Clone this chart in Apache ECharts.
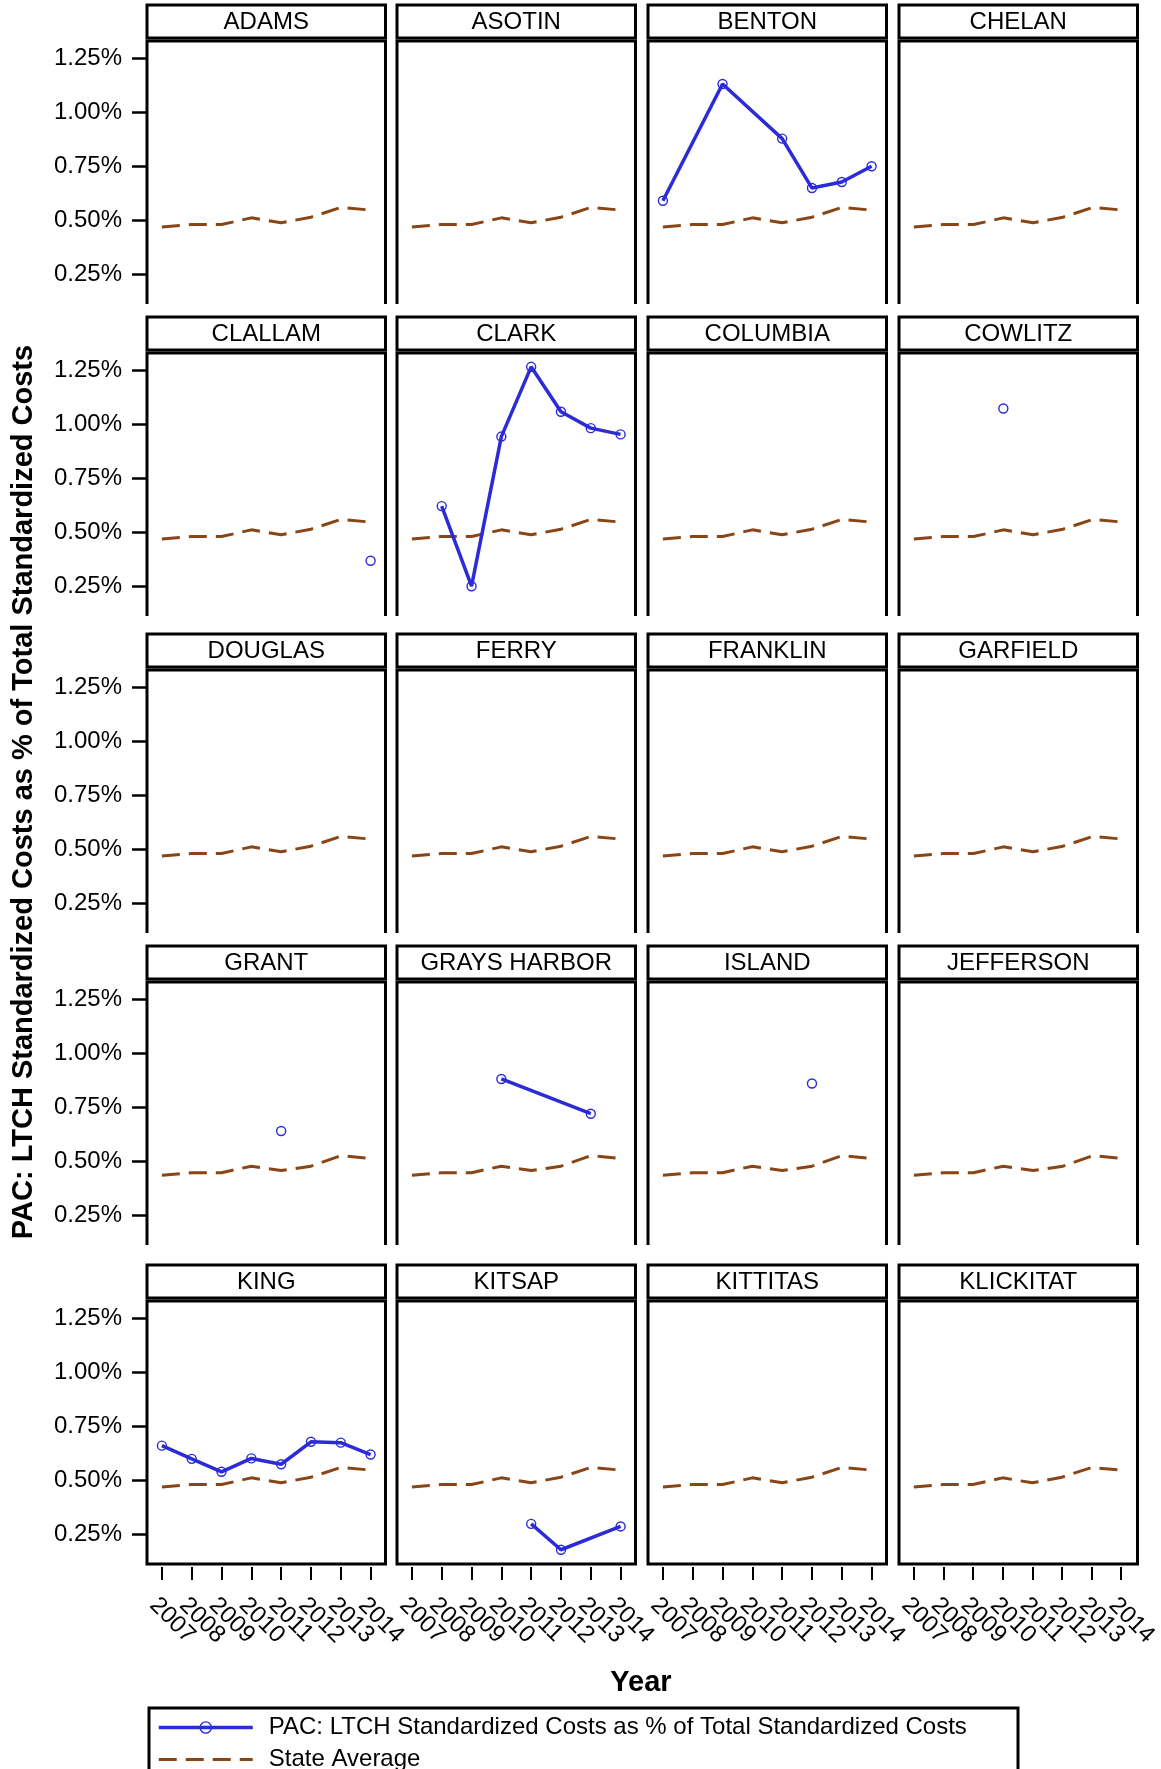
<!DOCTYPE html>
<html>
<head>
<meta charset="utf-8">
<script src="https://cdn.jsdelivr.net/npm/echarts@6/dist/echarts.min.js"></script>
<style>
html,body{margin:0;padding:0;background:#fff;}
#chart{width:1161px;height:1769px;}
</style>
</head>
<body>
<div id="chart"></div>
<script>
// ---------- data ----------
const years = ['2007','2008','2009','2010','2011','2012','2013','2014'];
const yTicks = [0.25, 0.5, 0.75, 1.0, 1.25];
const counties = ['ADAMS','ASOTIN','BENTON','CHELAN','CLALLAM','CLARK','COLUMBIA','COWLITZ',
  'DOUGLAS','FERRY','FRANKLIN','GARFIELD','GRANT','GRAYS HARBOR','ISLAND','JEFFERSON',
  'KING','KITSAP','KITTITAS','KLICKITAT'];

const stateAverage     = [0.469, 0.480, 0.480, 0.511, 0.488, 0.514, 0.559, 0.547];
const stateAverageRow4 = [0.435, 0.447, 0.447, 0.477, 0.457, 0.477, 0.526, 0.512];

const empty       = [null, null, null, null, null, null, null, null];
const benton      = [0.590, null, 1.131, null, 0.878, 0.649, 0.677, 0.750];
const clallam     = [null, null, null, null, null, null, null, 0.368];
const clark       = [null, 0.621, 0.250, 0.943, 1.266, 1.058, 0.982, 0.953];
const cowlitz     = [null, null, null, 1.073, null, null, null, null];
const grant       = [null, null, null, null, 0.640, null, null, null];
const graysHarbor = [null, null, null, 0.881, null, null, 0.720, null];
const island      = [null, null, null, null, null, 0.860, null, null];
const king        = [0.660, 0.599, 0.539, 0.601, 0.574, 0.678, 0.674, 0.619];
const kitsap      = [null, null, null, null, 0.298, 0.178, null, 0.286];

const countyValues = {
  'BENTON': benton, 'CLALLAM': clallam, 'CLARK': clark, 'COWLITZ': cowlitz,
  'GRANT': grant, 'GRAYS HARBOR': graysHarbor, 'ISLAND': island,
  'KING': king, 'KITSAP': kitsap
};

const seriesName = 'PAC: LTCH Standardized Costs as % of Total Standardized Costs';
const avgName = 'State Average';

// ---------- layout ----------
const FONT = '"Liberation Sans", Arial, sans-serif';
const colLeft = [147, 397, 648, 899];
const stripTop = [5, 317, 634, 946, 1265];
const W = 238.5, STRIP_H = 33, PLOT_OFF = 36, PLOT_H = 263;
const BLUE = '#2b2bd8', BROWN = '#8a4514';
const YMIN = 0.112, YMAX = 1.33;
const FRAME_W = 3;

const grids = [], xAxes = [], yAxes = [], series = [], graphics = [];

counties.forEach((name, i) => {
  const r = Math.floor(i / 4), c = i % 4;
  const x = colLeft[c], st = stripTop[r], pt = st + PLOT_OFF;
  const lastRow = r === 4;
  grids.push({ left: x, top: pt, width: W, height: PLOT_H });
  xAxes.push({
    type: 'category', gridIndex: i, data: years, boundaryGap: true,
    show: lastRow, offset: 3,
    axisLine: { show: false },
    axisTick: { show: true, alignWithLabel: true, length: 13, lineStyle: { color: '#000', width: 2 } },
    axisLabel: { show: true, interval: 0, rotate: -45, align: 'left', verticalAlign: 'top',
      margin: 26, fontSize: 24, color: '#000', fontFamily: FONT },
    splitLine: { show: false }
  });
  yAxes.push({
    type: 'value', gridIndex: i, min: YMIN, max: YMAX,
    show: c === 0,
    axisLine: { show: false },
    axisTick: { show: true, length: 15, customValues: yTicks, lineStyle: { color: '#000', width: 2.5 } },
    axisLabel: { show: true, customValues: yTicks, margin: 25, fontSize: 24, color: '#000', fontFamily: FONT,
      formatter: v => v.toFixed(2) + '%' },
    splitLine: { show: false }
  });
  series.push({
    name: avgName, type: 'line', xAxisIndex: i, yAxisIndex: i,
    data: r === 3 ? stateAverageRow4 : stateAverage,
    symbol: 'none', silent: true,
    lineStyle: { color: BROWN, width: 3, type: [18, 9] },
    itemStyle: { color: BROWN }
  });
  series.push({
    name: seriesName, type: 'line', xAxisIndex: i, yAxisIndex: i,
    data: countyValues[name] || empty,
    connectNulls: true, showAllSymbol: true,
    symbol: 'circle', symbolSize: 9,
    itemStyle: { color: 'rgba(255,255,255,0)', borderColor: BLUE, borderWidth: 1.4 },
    lineStyle: { color: BLUE, width: 3.5 },
    z: 3
  });
  // strip
  graphics.push({ type: 'rect', shape: { x: x, y: st, width: W, height: STRIP_H },
    style: { fill: '#fff', stroke: '#000', lineWidth: FRAME_W }, z: 10 });
  graphics.push({ type: 'text', x: x + W / 2, y: st + STRIP_H / 2 + 1,
    style: { text: name, fontSize: 24, fontFamily: FONT, fill: '#000', align: 'center', verticalAlign: 'middle' }, z: 11 });
  // frame
  if (lastRow) {
    graphics.push({ type: 'rect', shape: { x: x, y: pt, width: W, height: PLOT_H },
      style: { fill: null, stroke: '#000', lineWidth: FRAME_W }, z: 10 });
  } else {
    graphics.push({ type: 'polyline', shape: { points: [[x, pt + PLOT_H], [x, pt], [x + W, pt], [x + W, pt + PLOT_H]] },
      style: { fill: null, stroke: '#000', lineWidth: FRAME_W }, z: 10 });
  }
});

// titles
graphics.push({ type: 'text', x: 641, y: 1683,
  style: { text: 'Year', fontSize: 29, fontWeight: 'bold', fontFamily: FONT, fill: '#000', align: 'center', verticalAlign: 'middle' }, z: 11 });
graphics.push({ type: 'text', x: 24, y: 792, rotation: Math.PI / 2,
  style: { text: seriesName, fontSize: 29, fontWeight: 'bold', fontFamily: FONT, fill: '#000', align: 'center', verticalAlign: 'middle' }, z: 11 });
// legend box
graphics.push({ type: 'rect', shape: { x: 149, y: 1708, width: 869, height: 90 },
  style: { fill: null, stroke: '#000', lineWidth: FRAME_W }, z: 10 });

const chart = echarts.init(document.getElementById('chart'), null, { renderer: 'canvas' });
chart.setOption({
  animation: false,
  backgroundColor: '#fff',
  grid: grids,
  xAxis: xAxes,
  yAxis: yAxes,
  series: series,
  legend: {
    data: [
      { name: seriesName, lineStyle: { width: 3.5, color: BLUE },
        itemStyle: { color: 'rgba(255,255,255,0)', borderColor: BLUE, borderWidth: 1.4 } },
      { name: avgName, lineStyle: { width: 3, color: BROWN, type: [18, 9] },
        itemStyle: { color: 'rgba(0,0,0,0)', borderColor: 'rgba(0,0,0,0)', borderWidth: 0 } }
    ],
    orient: 'vertical', left: 152, top: 1709, height: 150, width: 900,
    itemWidth: 94, itemHeight: 14, itemGap: 5,
    selectedMode: false,
    textStyle: { fontSize: 24, lineHeight: 27, color: '#000', fontFamily: FONT, padding: [0, 0, 0, 11] }
  },
  graphic: graphics
});
</script>
</body>
</html>
